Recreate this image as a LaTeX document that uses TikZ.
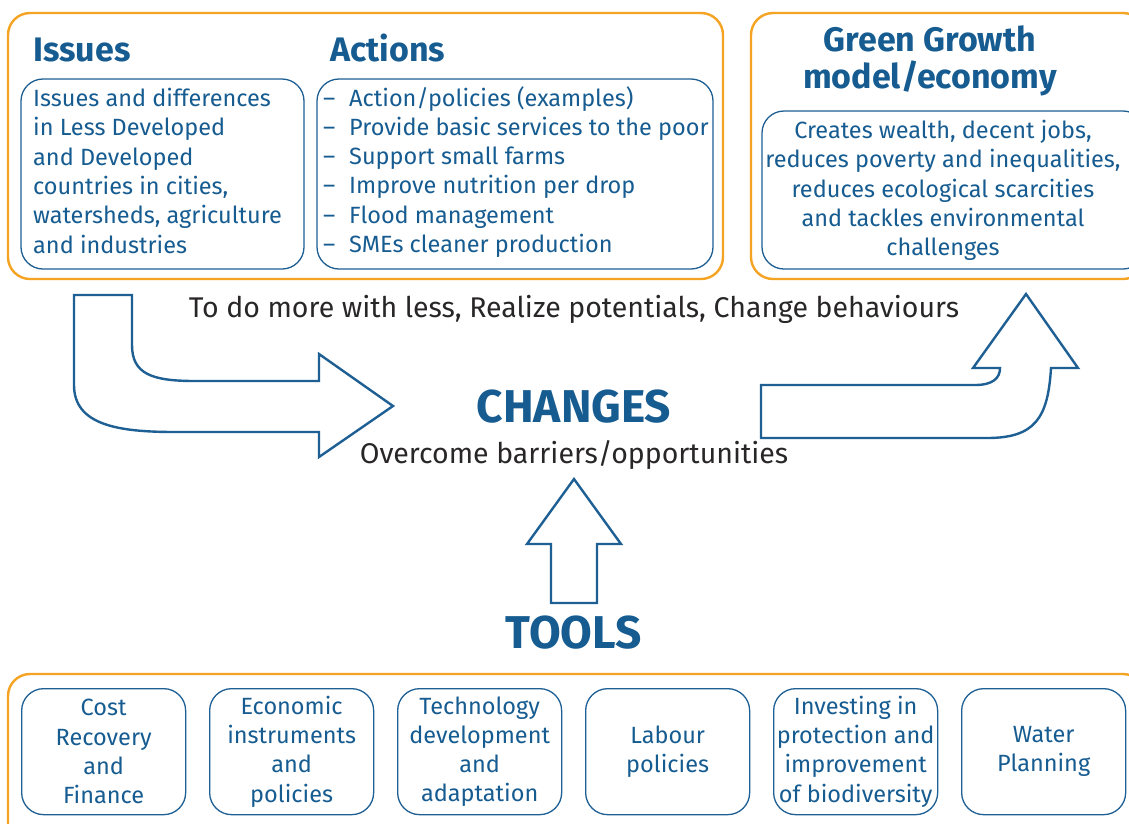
\documentclass[tikz,border=0pt]{standalone}
\usepackage{fontspec}
\setmainfont{Fira Sans}
\definecolor{gblue}{RGB}{22,92,145}
\definecolor{lineblue}{RGB}{30,95,148}
\definecolor{gorange}{RGB}{245,163,35}
\definecolor{ink}{RGB}{40,38,38}
\tikzset{
  outerbox/.style={draw=gorange, line width=2.4pt, rounded corners=22pt},
  innerbox/.style={draw=lineblue, line width=1.3pt, rounded corners=22pt, fill=white},
  blockarrow/.style={draw=lineblue, line width=2.4pt, fill=white, line join=miter},
  heading/.style={text=gblue, font=\fontsize{34}{37}\selectfont\bfseries, inner sep=0pt},
  bigword/.style={text=gblue, font=\fontsize{46}{48}\selectfont\bfseries, inner sep=0pt},
  bodytext/.style={text=gblue, font=\fontsize{23.5}{29.3}\selectfont, inner sep=0pt},
  plaintext/.style={text=ink, font=\fontsize{28.5}{30}\selectfont, inner sep=0pt},
  toolbox/.style={innerbox, minimum width=164pt, minimum height=126pt, anchor=north west,
    align=center, text=gblue, font=\fontsize{23.5}{29.3}\selectfont, inner sep=0pt},
}
\begin{document}
\begin{tikzpicture}[x=1pt,y=-1pt]
\useasboundingbox (0,0) rectangle (1129,823);
\clip (0,0) rectangle (1129,823);

% frames
\draw[outerbox] (8,13) rectangle (723,279);
\draw[outerbox] (751,13) rectangle (1145,279);
\draw[outerbox] (8,674) rectangle (1145,850);

% issues and actions
\node[heading, anchor=base west] (issuesT) at (33,61) {Issues};
\node[heading, anchor=base west] (actionsT) at (330,61) {Actions};
\draw[innerbox] (21,79) rectangle (304,269);
\draw[innerbox] (317,79) rectangle (713,269);
\node[bodytext, anchor=north west, align=left] (issues) at (33,88)
  {Issues and differences\\in Less Developed\\and Developed\\countries in cities,\\watersheds, agriculture\\and industries};
\node[bodytext, anchor=north west, align=left] (actions) at (323,86)
  {\makebox[26pt][l]{–}Action/policies (examples)\\
   \makebox[26pt][l]{–}Provide basic services to the poor\\
   \makebox[26pt][l]{–}Support small farms\\
   \makebox[26pt][l]{–}Improve nutrition per drop\\
   \makebox[26pt][l]{–}Flood management\\
   \makebox[26pt][l]{–}SMEs cleaner production};

% green growth
\node[heading, anchor=base, align=center] (ggT) at (930,88) {Green Growth\\model/economy};
\draw[innerbox] (762,111) rectangle (1145,269);
\node[bodytext, anchor=north, align=center] (gg) at (943,120)
  {Creates wealth, decent jobs,\\reduces poverty and inequalities,\\reduces ecological scarcities\\and tackles environmental\\challenges};

% middle texts
\node[plaintext, anchor=base] (more) at (574,317) {To do more with less, Realize potentials, Change behaviours};
\node[bigword, anchor=base] (changes) at (574,422) {CHANGES};
\node[plaintext, anchor=base] (overcome) at (574,463) {Overcome barriers/opportunities};
\node[bigword, anchor=base] (tools) at (574,648) {TOOLS};

% block arrows
\draw[blockarrow] (74,295) -- (132,295) -- (132,345)
  .. controls (132,374) and (152,381) .. (195,381) -- (319,381) -- (319,354)
  -- (393,406) -- (319,457) -- (319,432) -- (175,432)
  .. controls (118,432) and (74,425) .. (74,385) -- cycle;
\draw[blockarrow] (761,438) -- (761,385) -- (975,385)
  .. controls (993,385) and (1000,378) .. (1000,368) -- (973,368)
  -- (1026,294) -- (1078,368) -- (1051,368)
  .. controls (1048,418) and (1035,438) .. (987,438) -- cycle;
\draw[blockarrow] (551,603) -- (551,544) -- (527,544) -- (574,479)
  -- (621,544) -- (597,544) -- (597,603) -- cycle;

% tools
\node[toolbox] (t1) at (21,688) {Cost\\Recovery\\and\\Finance};
\node[toolbox] (t2) at (209,688) {Economic\\instruments\\and\\policies};
\node[toolbox] (t3) at (397,688) {Technology\\development\\and\\adaptation};
\node[toolbox] (t4) at (585,688) {Labour\\policies};
\node[toolbox] (t5) at (773,688) {Investing in\\protection and\\improvement\\of biodiversity};
\node[toolbox] (t6) at (961,688) {Water\\Planning};
\end{tikzpicture}
\end{document}
